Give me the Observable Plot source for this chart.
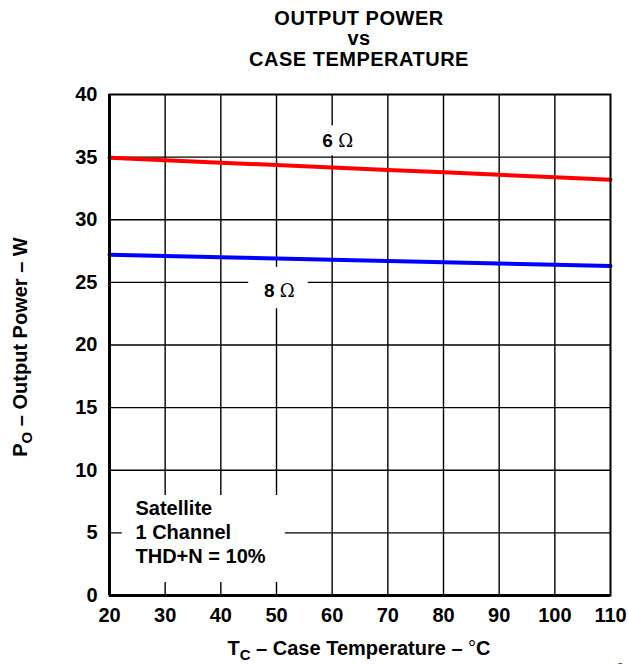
<!DOCTYPE html>
<html>
<head>
<meta charset="utf-8">
<script src="https://cdn.jsdelivr.net/npm/d3@7"></script>
<script src="https://cdn.jsdelivr.net/npm/@observablehq/plot@0.6"></script>
<style>
  html, body { margin: 0; padding: 0; background: #fff; }
  svg { font-family: "Liberation Sans", Arial, sans-serif; }
</style>
</head>
<body>
<div id="chart"></div>
<script>
// Data
const temps = [20, 30, 40, 50, 60, 70, 80, 90, 100, 110];
const power6ohm = [34.95, 34.76, 34.56, 34.37, 34.17, 33.98, 33.79, 33.59, 33.40, 33.20];
const power8ohm = [27.2, 27.1, 27.0, 26.9, 26.8, 26.7, 26.6, 26.5, 26.4, 26.3];
const xTicks = [20, 30, 40, 50, 60, 70, 80, 90, 100, 110];
const yTicks = [0, 5, 10, 15, 20, 25, 30, 35, 40];
const seriesLabels = ["6 Ω", "8 Ω"];
const labelX = [61, 50.5];
const labelY = [36.3, 24.35];
const labelBoxX1 = [55.2, 45];
const labelBoxX2 = [66, 55.7];
const labelBoxY1 = [35.1, 22.9];
const labelBoxY2 = [37.5, 26.2];
const noteLines = "Satellite\n1 Channel\nTHD+N = 10%";
const noteBox = {x1: 22.3, x2: 51.6, y1: 1.04, y2: 7.98};

const rows6 = temps.map((t, i) => ({t, p: power6ohm[i]}));
const rows8 = temps.map((t, i) => ({t, p: power8ohm[i]}));
const labelRows = seriesLabels.map((s, i) => ({s, x: labelX[i], y: labelY[i], x1: labelBoxX1[i], x2: labelBoxX2[i], y1: labelBoxY1[i], y2: labelBoxY2[i]}));

const W = 628, H = 664;
const plot = Plot.plot({
  width: W, height: H,
  marginLeft: 109, marginRight: 18, marginTop: 94, marginBottom: 69,
  style: {fontFamily: "Liberation Sans, Arial, sans-serif", fontSize: "20px", fontWeight: "bold", background: "white", color: "black"},
  x: {domain: [20, 110], ticks: xTicks},
  y: {domain: [0, 40], ticks: yTicks},
  marks: [
    Plot.ruleX(xTicks.slice(1, -1), {stroke: "black", strokeWidth: 1.4}),
    Plot.ruleY(yTicks.slice(1, -1), {stroke: "black", strokeWidth: 1.4}),
    Plot.rect([noteBox], {x1: "x1", x2: "x2", y1: "y1", y2: "y2", fill: "white"}),
    Plot.rect(labelRows, {x1: "x1", x2: "x2", y1: "y1", y2: "y2", fill: "white"}),
    Plot.line(rows6, {x: "t", y: "p", stroke: "#ff0000", strokeWidth: 4}),
    Plot.line(rows8, {x: "t", y: "p", stroke: "#0000ff", strokeWidth: 4}),
    Plot.text(labelRows, {x: "x", y: "y", text: "s", fontSize: 19, fontWeight: "bold", fill: "black"}),
    Plot.text([noteLines], {frameAnchor: "bottom-left", dx: 26, dy: -33, lineHeight: 1.2, fontSize: 20, fontWeight: "bold", textAnchor: "start", fill: "black"}),
    Plot.frame({stroke: "black", strokeWidth: 2}),
    Plot.ruleX([20], {stroke: "black", strokeWidth: 3}),
    Plot.ruleY([0], {stroke: "black", strokeWidth: 3}),
    Plot.axisX({ticks: xTicks, tickSize: 0, tickPadding: 12, label: null, fontSize: 20, fontWeight: "bold"}),
    Plot.axisY({ticks: yTicks, tickSize: 0, tickPadding: 12, label: null, fontSize: 20, fontWeight: "bold"})
  ]
});
document.getElementById("chart").appendChild(plot);

const svg = d3.select(plot);
// Render Ω with regular weight
svg.selectAll("text").each(function() {
  const t = d3.select(this);
  if (t.selectAll("tspan").empty() && t.text().includes("Ω")) {
    const parts = t.text().split("Ω");
    t.text(null);
    t.append("tspan").text(parts[0]);
    t.append("tspan").attr("font-weight", "normal").attr("font-family", "DejaVu Serif, serif").attr("font-size", 18).text("Ω");
  }
});

// Title
const titleLines = ["OUTPUT POWER", "vs", "CASE TEMPERATURE"];
const titleBaselines = [25, 45, 66];
const tg = svg.append("g").attr("font-size", 20).attr("font-weight", "bold").attr("text-anchor", "middle")
  .attr("fill", "black").attr("letter-spacing", "0.5px");
titleLines.forEach((s, i) => {
  tg.append("text").attr("x", 359).attr("y", titleBaselines[i]).text(s);
});

// X axis label with subscript
const xl = svg.append("text").attr("x", 359).attr("y", 655).attr("text-anchor", "middle")
  .attr("font-size", 20).attr("font-weight", "bold").attr("fill", "black");
xl.append("tspan").text("T");
xl.append("tspan").attr("font-size", 15).attr("dy", 5).text("C");
xl.append("tspan").attr("dy", -5).text(" – Case Temperature – ");
xl.append("tspan").attr("font-weight", "normal").text("°");
xl.append("tspan").text("C");

// Y axis label with subscript
const yl = svg.append("text").attr("transform", "translate(27,347) rotate(-90)").attr("text-anchor", "middle")
  .attr("font-size", 20).attr("font-weight", "bold").attr("fill", "black");
yl.append("tspan").text("P");
yl.append("tspan").attr("font-size", 15).attr("dy", 5).text("O");
yl.append("tspan").attr("dy", -5).text(" – Output Power – W");

// cut-off page number at bottom-right corner (as in the reference)
svg.append("text").attr("x", 620).attr("y", 675).attr("font-size", 16).attr("fill", "#444").text("6");
</script>
</body>
</html>
